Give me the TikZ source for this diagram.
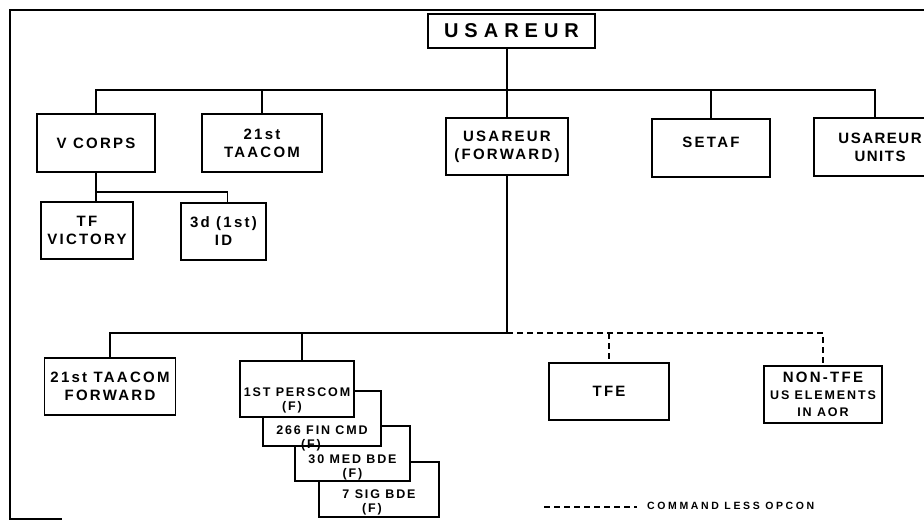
\documentclass[tikz,border=0pt]{standalone}
\usepackage{fontspec}
\setmainfont{Liberation Sans}[LetterSpace=15]
\newcommand\stk[4]{\parbox[c][#2][b]{#1}{\centering #4\par\vspace{#3}}}
\tikzset{
  box/.style={draw, line width=1.5pt, fill=white, inner sep=0pt, align=center,
    font=\bfseries\fontsize{15}{18}\selectfont},
  sbox/.style={draw, line width=1.5pt, fill=white, inner sep=0pt,
    font=\bfseries\fontsize{12.5}{14}\selectfont},
  ln/.style={line width=1.2pt},
  dsh/.style={line width=1.2pt, dash pattern=on 6pt off 4pt},
  frame/.style={line width=1.5pt},
}
\begin{document}
\begin{tikzpicture}[x=1pt,y=-1pt]
\useasboundingbox (0,0) rectangle (924,520);
\clip (0,0) rectangle (924,520);
\fill[white] (0,0) rectangle (924,520);
\draw[frame] (924,10) -- (10,10) -- (10,519) -- (62,519);

% top
\node[box, minimum width=167pt, minimum height=34pt,
  font=\bfseries\fontsize{20}{24}\selectfont\addfontfeatures{LetterSpace=30}] (top) at (511.5,31) {USAREUR};

% level 2
\node[box, minimum width=118pt, minimum height=58pt] (vcorps) at (96,143) {V CORPS};
\node[box, minimum width=120pt, minimum height=58pt] (taacom) at (262,143) {21st\\TAACOM};
\node[box, minimum width=122pt, minimum height=57pt] (fwd) at (507,146.5) {USAREUR\\(FORWARD)};
\node[box, minimum width=118pt, minimum height=58pt, text height=11pt, text depth=13pt] (setaf) at (711,148) {SETAF};
\node[box, minimum width=132pt, minimum height=58pt,
  font=\bfseries\fontsize{15}{18}\selectfont\addfontfeatures{LetterSpace=10}] (units) at (880,147) {USAREUR\\UNITS};

% level 3
\node[box, minimum width=92pt, minimum height=57pt] (tfv) at (87,230.5) {TF\\VICTORY};
\node[box, minimum width=85pt, minimum height=57pt] (id3) at (223.5,231.5) {3d (1st)\\ID};

% lower level
\node[box, minimum width=131pt, minimum height=57pt] (taacomf) at (110,386.5) {21st TAACOM\\FORWARD};
\node[box, minimum width=120pt, minimum height=57pt] (tfe) at (609,391.5) {TFE};
\node[box, minimum width=118pt, minimum height=57pt] (nontfe) at (823,394.5)
  {NON-TFE\\[-1pt]{\fontsize{12.5}{15}\selectfont US ELEMENTS}\\[-1pt]{\fontsize{12.5}{15}\selectfont IN AOR}};

% stacked boxes (back to front)
\node[sbox] (p4) at (379,489.5) {\stk{120pt}{55pt}{1.5pt}{7 SIG BDE\hspace*{14pt}\\(F)\hspace*{14pt}}};
\node[sbox] (p3) at (352.5,453.5) {\stk{115pt}{55pt}{0.5pt}{30 MED BDE\\(F)}};
\node[sbox] (p2) at (322,418.5) {\stk{118pt}{55pt}{-5pt}{266 FIN CMD\hspace*{22pt}\\(F)\hspace*{22pt}}};
\node[sbox] (p1) at (297,389) {\stk{114pt}{56pt}{3.5pt}{1ST PERSCOM\\(F)\hspace*{10pt}}};

% connectors, top level
\coordinate (b1) at (507,90);
\draw[ln] (top.south -| b1) -- (b1);
\draw[ln] (vcorps.north) |- (b1) -| ([xshift=-5pt]units.north);
\draw[ln] (b1) -| (taacom.north);
\draw[ln] (b1) -- (fwd.north);
\draw[ln] (b1) -| (setaf.north);

% V corps children
\coordinate (b2) at (vcorps.south |- 0,192);
\draw[ln] (vcorps.south) -- (vcorps.south |- tfv.north);
\draw[ln] (b2) -| ([xshift=4pt]id3.north);

% forward children
\coordinate (b3) at (fwd.south |- 0,333);
\draw[ln] (fwd.south) -- (b3);
\draw[ln] (b3) -| (taacomf.north);
\draw[ln] (b3) -| ([xshift=5pt]p1.north);
\draw[dsh] (b3) -| (nontfe.north);
\draw[dsh] (tfe.north |- b3) -- (tfe.north);

% legend
\node[font=\bfseries\fontsize{10.5}{12}\selectfont\addfontfeatures{LetterSpace=25}, anchor=west, inner sep=0pt] (leg) at (647,506) {COMMAND LESS OPCON};
\coordinate (l1) at (544,507);
\draw[dsh] (l1) -- ([xshift=-10pt]leg.west |- l1);
\end{tikzpicture}
\end{document}
